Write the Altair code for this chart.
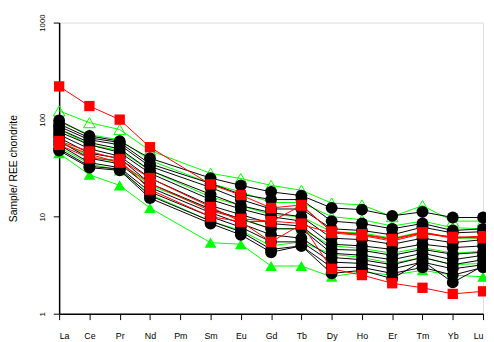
import altair as alt
import pandas as pd

elements = ["La", "Ce", "Pr", "Nd", "Pm", "Sm", "Eu", "Gd", "Tb", "Dy", "Ho", "Er", "Tm", "Yb", "Lu"]
# Values for every element except Pm (not analysed)
measured = ["La", "Ce", "Pr", "Nd", "Sm", "Eu", "Gd", "Tb", "Dy", "Ho", "Er", "Tm", "Yb", "Lu"]

green_open = {
    "GO1": [123, 93, 79, 48, 28, 24.7, 21, 18.7, 13.8, 13.2, 10.0, 13.0, 9.0, 9.0],
    "GO2": [95, 70, 62, 38, 22, 18, 14, 14, 10, 9.3, 8.0, 9.0, 7.7, 7.5],
    "GO3": [80, 55, 48, 30, 16, 13, 10.5, 10, 7.0, 6.8, 6.0, 7.0, 6.0, 6.0],
}
green_filled = {
    "GF1": [45, 27, 21, 12.3, 5.4, 5.2, 3.1, 3.1, 2.4, 2.7, 2.5, 2.8, 2.5, 2.4],
    "GF2": [52, 35, 30, 17, 9.0, 7.2, 5.0, 5.5, 4.1, 3.8, 3.3, 3.8, 3.2, 3.3],
    "GF3": [60, 42, 36, 21, 12, 9.5, 7.5, 7.5, 5.0, 4.7, 4.2, 4.8, 4.2, 4.4],
}
black = {
    "B1": [98, 68, 60, 40, 25, 21, 18, 16.5, 12.3, 11.8, 10.2, 11.2, 9.8, 9.8],
    "B2": [90, 65, 58, 35, 22, 17, 15, 15, 9.0, 8.5, 7.5, 8.5, 7.2, 7.5],
    "B3": [85, 62, 55, 33, 20, 15, 12, 12, 7.5, 7.2, 6.5, 7.8, 6.8, 7.0],
    "B4": [80, 58, 50, 30, 17, 13, 11, 10, 6.0, 5.8, 5.2, 6.0, 5.4, 5.8],
    "B5": [75, 55, 46, 28, 15, 12, 10, 9.0, 5.2, 5.0, 4.6, 5.2, 4.8, 5.0],
    "B6": [70, 50, 42, 25, 13, 10.5, 8.5, 8.0, 4.6, 4.5, 4.0, 4.6, 4.1, 4.3],
    "B7": [65, 45, 40, 22, 12, 9.5, 7.5, 7.5, 4.2, 4.0, 3.6, 4.2, 3.6, 4.0],
    "B8": [60, 40, 35, 20, 11, 8.5, 6.5, 6.0, 3.8, 3.6, 3.2, 3.8, 3.2, 3.6],
    "B9": [55, 36, 32, 18, 10, 7.8, 5.5, 5.5, 3.4, 3.3, 2.9, 3.4, 2.9, 3.2],
    "B10": [50, 33, 31, 16.5, 9.0, 7.0, 4.6, 5.0, 3.0, 3.0, 2.6, 3.0, 2.5, 3.0],
    "B11": [48, 32, 30, 15.5, 8.5, 6.5, 4.3, 5.0, 2.6, 2.8, 2.3, 3.5, 2.1, 3.1],
}
red = {
    "R1": [220, 138, 100, 52, 21.5, 16.7, 12.3, 13.2, 7.0, 6.6, 5.9, 6.9, 6.1, 6.3],
    "R2": [60, 47, 39, 25, 12.6, 8.9, 8.9, 13.0, 7.0, 6.5, 5.8, 6.8, 6.0, 6.2],
    "R3": [55, 40, 38, 19, 10, 8.9, 5.5, 8.3, 6.8, 6.4, 5.6, 6.7, 6.2, 6.0],
    "R4": [58, 44, 36, 22, 11.5, 9.5, 9.0, 8.5, 2.9, 2.5, 2.06, 1.85, 1.6, 1.7],
}


def frame(groups):
    rows = []
    for name, vals in groups.items():
        for el, v in zip(measured, vals):
            rows.append({"series": name, "x": elements.index(el), "el": el, "v": v})
    return pd.DataFrame(rows)


label_expr = "[" + ",".join("'%s'" % e for e in elements) + "][datum.value]"

x_enc = alt.X(
    "x:Q",
    scale=alt.Scale(domain=[0, len(elements) - 1], nice=False, zero=False),
    axis=alt.Axis(
        values=list(range(len(elements))),
        labelExpr=label_expr,
        title=None,
        grid=False,
        tickSize=6,
        labelPadding=12,
        labelFontSize=9,
        labelColor="#000000",
        tickColor="#000000",
        domainColor="#000000",
        domainWidth=1.5,
        labelFont="Liberation Sans",
    ),
)
y_enc = alt.Y(
    "v:Q",
    scale=alt.Scale(type="log", domain=[1, 1000], nice=False),
    axis=alt.Axis(
        values=[1, 10, 100, 1000],
        format="d",
        title="Sample/ REE chondrite",
        titleFont="Liberation Sans",
        titleFontSize=10.5,
        titleFontWeight="normal",
        titleColor="#000000",
        titlePadding=20,
        grid=False,
        tickSize=6,
        labelPadding=7,
        labelAngle=270,
        labelAlign="center",
        labelBaseline="bottom",
        labelFontSize=8,
        labelColor="#000000",
        tickColor="#000000",
        domainColor="#000000",
        domainWidth=1.5,
        labelFont="Liberation Sans",
    ),
)


def group_layers(groups, color, shape, filled, size):
    df = frame(groups)
    base = alt.Chart(df).encode(x=x_enc, y=y_enc, detail="series:N")
    line = base.mark_line(color=color, strokeWidth=1)
    pts = base.mark_point(
        shape=shape, filled=filled, size=size, color=color, opacity=1,
        strokeWidth=1,
    )
    return line + pts


chart = alt.layer(
    group_layers(green_open, "#00ff00", "triangle-up", False, 140),
    group_layers(green_filled, "#00ff00", "triangle-up", True, 140),
    group_layers(black, "#000000", "circle", True, 144),
    group_layers(red, "#ff0000", "square", True, 110),
).properties(
    width=431,
    height=296,
    autosize=alt.AutoSizeParams(type="none"),
    padding={"left": 52, "top": 12, "right": 3, "bottom": 30},
).configure_view(
    stroke="#000000", strokeWidth=1
).configure(background="#ffffff")

chart.save("out.html", embed_options={"renderer": "svg", "actions": False})
